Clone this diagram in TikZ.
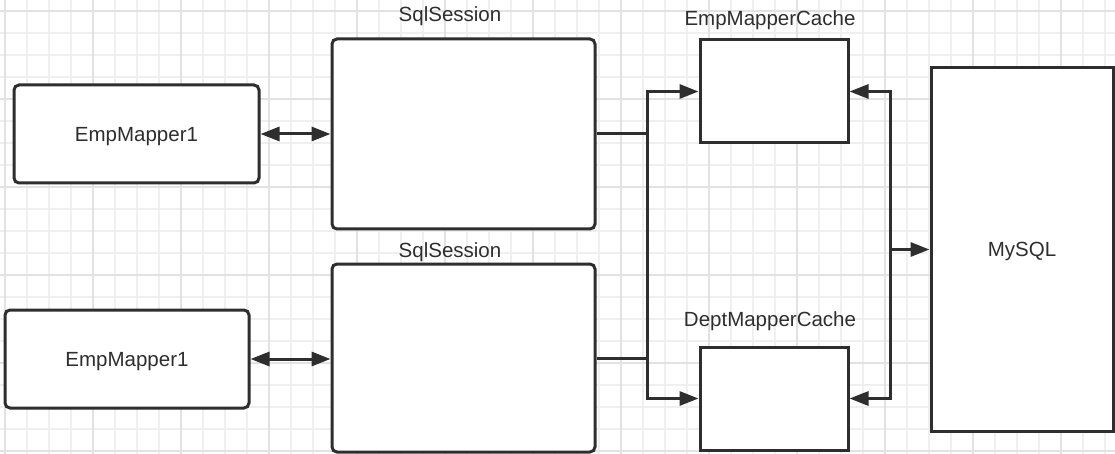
\documentclass[tikz,border=0pt]{standalone}
\usepackage{fontspec}
\setmainfont{Liberation Sans}
\usetikzlibrary{arrows.meta}
\definecolor{ink}{HTML}{2E2E2E}
\definecolor{gridminor}{HTML}{EFEFEF}
\definecolor{gridmajor}{HTML}{E2E2E2}
\begin{document}
\begin{tikzpicture}[x=1pt,y=-1pt,
  every node/.style={font=\fontsize{20.5}{24}\selectfont, text=ink, text depth=0pt},
  roundbox/.style={draw=ink, line width=3pt, rounded corners=5pt, fill=white, minimum width=#1, inner sep=0pt},
  sqbox/.style={draw=ink, line width=3pt, fill=white, inner sep=0pt},
  conn/.style={draw=ink, line width=3pt},
  tip/.tip={Triangle[length=19pt,width=14pt]},
  lbl/.style={inner sep=0pt}
]
\useasboundingbox (0,0) rectangle (1115,454);
\fill[white] (0,0) rectangle (1115,454);
% grid
\foreach \gx in {5,27,...,1115} \draw[gridminor, line width=1.5pt] (\gx,0) -- (\gx,454);
\foreach \gy in {11,33,...,454} \draw[gridminor, line width=1.5pt] (0,\gy) -- (1115,\gy);
\foreach \gx in {5,93,...,1115} \draw[gridmajor, line width=1.7pt] (\gx,0) -- (\gx,454);
\foreach \gy in {11,99,...,454} \draw[gridmajor, line width=1.7pt] (0,\gy) -- (1115,\gy);

% nodes
\node[roundbox=245pt, minimum height=98pt] (e1) at (136.5,134) {EmpMapper1};
\node[roundbox=263pt, minimum height=190pt] (s1) at (463.5,134) {};
\node[roundbox=244pt, minimum height=98pt] (e2) at (127,359) {EmpMapper1};
\node[roundbox=263pt, minimum height=188pt] (s2) at (463.5,358) {};
\node[sqbox, minimum width=148pt, minimum height=103pt] (c1) at (774,91.5) {};
\node[sqbox, minimum width=148pt, minimum height=103pt] (c2) at (774,398.5) {};
\node[sqbox, minimum width=182pt, minimum height=363pt] (db) at (1022,249.5) {MySQL};

% labels
\node[lbl] (l1) at (450,14) {SqlSession};
\node[lbl] (l2) at (450,250) {SqlSession};
\node[lbl] (l3) at (770,18) {EmpMapperCache};
\node[lbl] (l4) at (770,319) {DeptMapperCache};

% bus coordinates
\coordinate (lbus) at (647,249);
\coordinate (rbus) at (890,249);

% connectors
\draw[conn, tip-tip] (e1.east) -- (s1.west);
\draw[conn, tip-tip] (e2.east) -- (e2.east -| s2.west);
\draw[conn] (s1.east) -- (s1.east -| lbus);
\draw[conn] (s2.east) -- (s2.east -| lbus);
\draw[conn, tip-tip] (c1.west) -- (c1.west -| lbus) -- (c2.west -| lbus) -- (c2.west);
\draw[conn, tip-tip] (c1.east) -- (c1.east -| rbus) -- (c2.east -| rbus) -- (c2.east);
\draw[conn, -tip] (db.west -| rbus) -- (db.west);
\end{tikzpicture}
\end{document}
